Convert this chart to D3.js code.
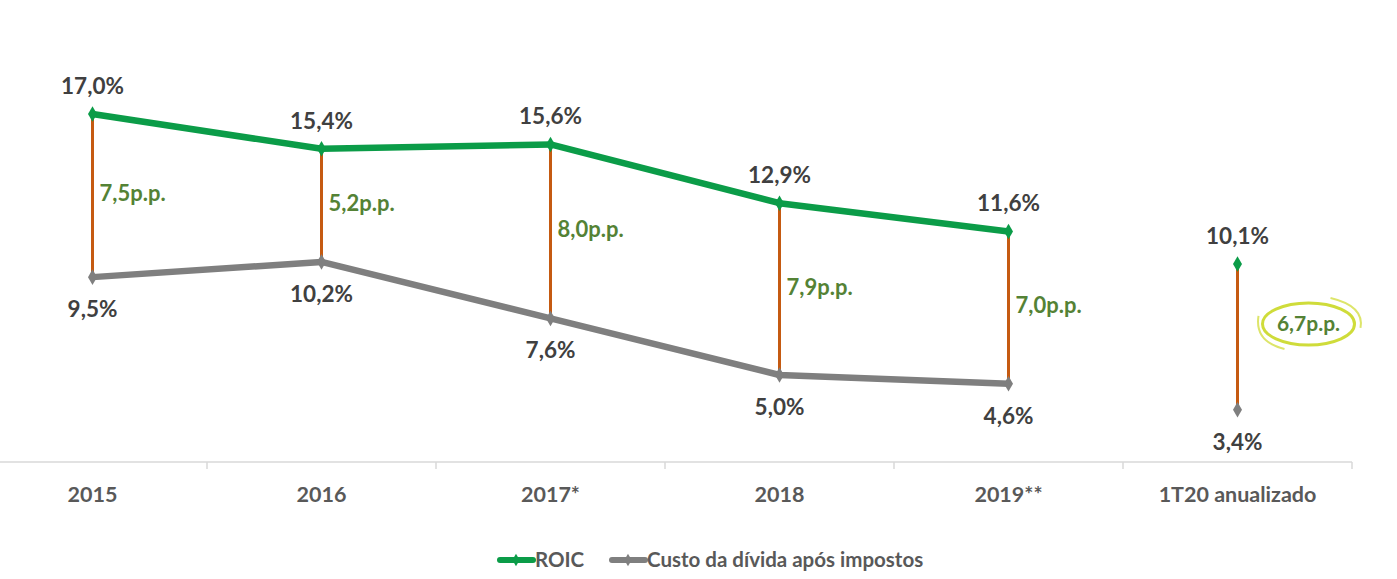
<!DOCTYPE html>
<html><head><meta charset="utf-8">
<script src="https://cdn.jsdelivr.net/npm/d3@7"></script>
<style>body{margin:0;background:#fff;} text{font-family:Lato,"Open Sans",sans-serif;font-weight:bold;}</style>
</head><body>
<svg id="c" width="1397" height="579"></svg>
<script>
const categories = ["2015","2016","2017*","2018","2019**","1T20 anualizado"];
const roic = [17.0, 15.4, 15.6, 12.9, 11.6, 10.1];
const custo = [9.5, 10.2, 7.6, 5.0, 4.6, 3.4];
const spreadLabels = ["7,5p.p.","5,2p.p.","8,0p.p.","7,9p.p.","7,0p.p.","6,7p.p."];
const seriesNames = ["ROIC","Custo da dívida após impostos"];

const svg = d3.select("#c");
const x = d3.scaleBand().domain(categories).range([-22, 1352]).padding(0);
const y = d3.scaleLinear().domain([1, 17]).range([462, 114]);
const cx = c => x(c) + x.bandwidth()/2;
const fmt = v => v.toFixed(1).replace(".", ",") + "%";

const GREEN = "#0b9c48", GRAY = "#7f7f7f", ORANGE = "#c55a11", PPGREEN = "#548235", TXT = "#404040";

// x axis
const axis = d3.axisBottom(x).tickSize(6).tickSizeOuter(0).tickFormat(d => d);
const ag = svg.append("g").attr("transform", "translate(0,462)").call(axis);
ag.select(".domain").attr("stroke", "#d9d9d9").attr("stroke-width", 1.5).attr("d", "M0,0H1352");
ag.selectAll(".tick line").remove();
ag.selectAll(".tick text").attr("dy", 0).attr("y", 40).attr("font-size", 21.5).attr("fill", "#595959")
  .style("font-family", "Lato, sans-serif").style("font-weight", "bold");
// band boundary ticks
const bounds = categories.map(c => x(c) + x.bandwidth());
ag.selectAll("line.b").data(bounds).enter().append("line")
  .attr("x1", d => d).attr("x2", d => d).attr("y1", 0).attr("y2", 7)
  .attr("stroke", "#d9d9d9").attr("stroke-width", 1.5);

// orange connectors
svg.selectAll("line.conn").data(categories).enter().append("line")
  .attr("x1", c => cx(c)).attr("x2", c => cx(c))
  .attr("y1", (c,i) => y(roic[i])).attr("y2", (c,i) => y(custo[i]))
  .attr("stroke", ORANGE).attr("stroke-width", 3);

// lines (first 5 points)
const line = d3.line().x(d => cx(d.c)).y(d => y(d.v));
const mk = arr => categories.slice(0,5).map((c,i) => ({c, v: arr[i]}));
svg.append("path").attr("d", line(mk(custo))).attr("fill","none").attr("stroke", GRAY).attr("stroke-width", 6.5).attr("stroke-linejoin","round");
svg.append("path").attr("d", line(mk(roic))).attr("fill","none").attr("stroke", GREEN).attr("stroke-width", 6.5).attr("stroke-linejoin","round");

// markers
const diamond = d3.symbol().type(d3.symbolDiamond).size(70);
svg.selectAll("path.mc").data(categories).enter().append("path")
  .attr("d", diamond).attr("transform", (c,i) => `translate(${cx(c)},${y(custo[i])})`).attr("fill", GRAY);
svg.selectAll("path.mr").data(categories).enter().append("path")
  .attr("d", diamond).attr("transform", (c,i) => `translate(${cx(c)},${y(roic[i])})`).attr("fill", GREEN);

// value labels
svg.selectAll("text.lr").data(categories).enter().append("text")
  .attr("x", c => cx(c)).attr("y", (c,i) => y(roic[i]) - 28).attr("dy", "0.35em")
  .attr("text-anchor","middle").attr("font-size", 22.5).attr("fill", TXT).text((c,i) => fmt(roic[i]));
svg.selectAll("text.lc").data(categories).enter().append("text")
  .attr("x", c => cx(c)).attr("y", (c,i) => y(custo[i]) + 32).attr("dy", "0.35em")
  .attr("text-anchor","middle").attr("font-size", 22.5).attr("fill", TXT).text((c,i) => fmt(custo[i]));

// spread labels
svg.selectAll("text.pp").data(categories.slice(0,5)).enter().append("text")
  .attr("x", c => cx(c) + 7).attr("y", (c,i) => (y(roic[i]) + y(custo[i]))/2 - 2).attr("dy", "0.35em")
  .attr("font-size", 22).attr("fill", PPGREEN).text((c,i) => spreadLabels[i]);

// last spread label with ellipse
const lc = categories[5];
const ex = cx(lc) + 71, ey = (y(roic[5]) + y(custo[5]))/2 - 13;
svg.append("ellipse").attr("cx", ex).attr("cy", ey).attr("rx", 46).attr("ry", 21)
  .attr("fill","none").attr("stroke", "#cfdc3a").attr("stroke-width", 3);
svg.append("path").attr("d", `M${ex+22},${ey-26} Q${ex+56},${ey-18} ${ex+52},${ey+4}`)
  .attr("fill","none").attr("stroke","#dde56a").attr("stroke-width",2);
svg.append("path").attr("d", `M${ex-24},${ey+25} Q${ex-54},${ey+18} ${ex-50},${ey-8}`)
  .attr("fill","none").attr("stroke","#dde56a").attr("stroke-width",2);
svg.append("text").attr("x", ex).attr("y", ey).attr("dy","0.35em").attr("text-anchor","middle")
  .attr("font-size", 21).attr("fill", PPGREEN).text(spreadLabels[5]);

// legend
const leg = svg.append("g").attr("transform","translate(0,560)");
const items = [{name: seriesNames[0], color: GREEN, x: 500}, {name: seriesNames[1], color: GRAY, x: 612}];
items.forEach(it => {
  leg.append("line").attr("x1", it.x).attr("x2", it.x + 33).attr("y1", 0).attr("y2", 0)
    .attr("stroke", it.color).attr("stroke-width", 6).attr("stroke-linecap","round");
  leg.append("path").attr("d", d3.symbol().type(d3.symbolDiamond).size(45)).attr("transform", `translate(${it.x+16},0)`).attr("fill", it.color);
  leg.append("text").attr("x", it.x + 35).attr("y", 0).attr("dy","0.35em").attr("font-size", 20.5).attr("fill", "#595959").text(it.name);
});
</script>
</body></html>
